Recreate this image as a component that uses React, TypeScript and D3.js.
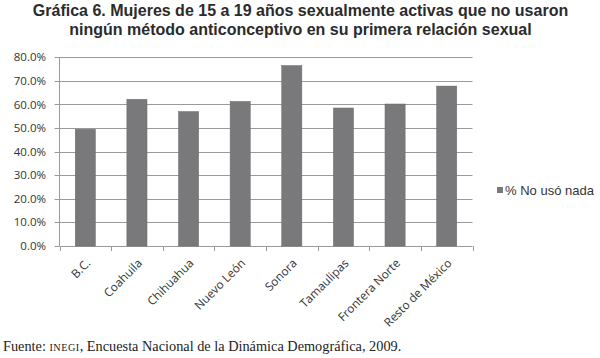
import React from "react";
import * as d3 from "d3";

const categories = ["B.C.", "Coahuila", "Chihuahua", "Nuevo León", "Sonora", "Tamaulipas", "Frontera Norte", "Resto de México"];
const values = [49.5, 62.2, 57.0, 61.3, 76.5, 58.5, 60.2, 67.8];
const yTicks = [0, 10, 20, 30, 40, 50, 60, 70, 80];
const titleLines = [
  "Gráfica 6. Mujeres de 15 a 19 años sexualmente activas que no usaron",
  "ningún método anticonceptivo en su primera relación sexual",
];
const legendLabel = "% No usó nada";

const W = 600, H = 358;
const plot = { left: 59.5, right: 472.5, top: 57.3, bottom: 246 };

export default function App() {
  const x = d3.scaleBand<string>().domain(categories).range([plot.left, plot.right]).paddingInner(0.61).paddingOuter(0.305);
  const y = d3.scaleLinear().domain([0, 80]).range([plot.bottom, plot.top]);
  const bandEdges = d3.range(categories.length + 1).map((i) => plot.left + (i * (plot.right - plot.left)) / categories.length);
  return (
    <svg width={W} height={H} style={{ position: "absolute", left: 0, top: 0, background: "#fff" }}>
      <rect width={W} height={H} fill="#fff" />
      {titleLines.map((t, i) => (
        <text key={i} x={300.5} y={15.5 + i * 19} textAnchor="middle" fontFamily="Liberation Sans, Arial, sans-serif" fontWeight="bold" fontSize={16} fill="#2b2b2b">{t}</text>
      ))}
      {yTicks.map((t) => (
        <g key={t}>
          <line x1={plot.left} x2={plot.right} y1={Math.round(y(t)) + 0.5} y2={Math.round(y(t)) + 0.5} stroke="#9a9a9a" strokeWidth={1} />
          <line x1={plot.left - 5} x2={plot.left} y1={Math.round(y(t)) + 0.5} y2={Math.round(y(t)) + 0.5} stroke="#9a9a9a" />
          <text x={46} y={y(t)} dy="0.35em" textAnchor="end" fontFamily="Open Sans, sans-serif" fontSize={11.5} fill="#333">{t.toFixed(1)}%</text>
        </g>
      ))}
      <line x1={plot.left} x2={plot.left} y1={plot.top} y2={plot.bottom} stroke="#9a9a9a" />
      {bandEdges.map((e, i) => (
        <line key={i} x1={Math.round(e) + 0.5} x2={Math.round(e) + 0.5} y1={plot.bottom} y2={plot.bottom + 5} stroke="#9a9a9a" />
      ))}
      {categories.map((c, i) => (
        <rect key={c} x={x(c)} y={y(values[i])} width={x.bandwidth()} height={plot.bottom - y(values[i])} fill="#79797b" stroke="#6a6a6c" strokeWidth={0.5} />
      ))}
      {categories.map((c) => {
        const cx = (x(c) as number) + x.bandwidth() / 2 + 3;
        const cy = plot.bottom + 15;
        return (
          <text key={c} transform={`translate(${cx},${cy}) rotate(-45)`} textAnchor="end" dy="0.35em" fontFamily="Open Sans, sans-serif" fontSize={11.8} fill="#333">{c}</text>
        );
      })}
      <rect x={497} y={187} width={6} height={6} fill="#79797b" />
      <text x={505} y={190} dy="0.35em" fontFamily="Liberation Sans, Arial, sans-serif" fontSize={13} fill="#333">{legendLabel}</text>
      <text x={3} y={351} fontFamily="Liberation Serif, serif" fontSize={14.3} fill="#222">
        Fuente: <tspan fontSize={10.2} letterSpacing={0.5}>INEGI</tspan>, Encuesta Nacional de la Dinámica Demográfica, 2009.
      </text>
    </svg>
  );
}
